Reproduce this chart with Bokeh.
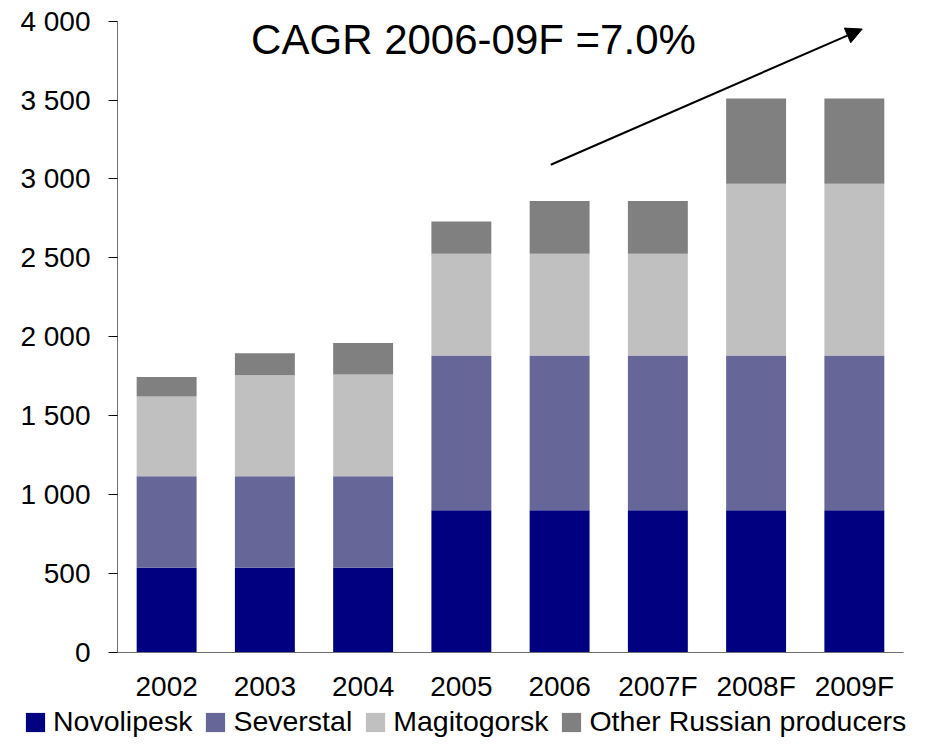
from bokeh.plotting import figure
from bokeh.models import (Range1d, FixedTicker, Legend, LegendItem, Arrow,
                          NormalHead, Label, ColumnDataSource)
from bokeh.embed import file_html
from bokeh.resources import INLINE

# ---- data ----
years = ["2002", "2003", "2004", "2005", "2006", "2007F", "2008F", "2009F"]
novolipesk = [535, 535, 535, 900, 900, 900, 900, 900]
severstal = [580, 580, 580, 980, 980, 980, 980, 980]
magitogorsk = [505, 640, 645, 645, 645, 645, 1090, 1090]
other = [125, 140, 200, 205, 335, 335, 540, 540]
series = ["Novolipesk", "Severstal", "Magitogorsk", "Other Russian producers"]
colors = ["#000080", "#666699", "#C0C0C0", "#808080"]
y_ticks = [0, 500, 1000, 1500, 2000, 2500, 3000, 3500, 4000]
y_tick_labels = ["0", "500", "1 000", "1 500", "2 000", "2 500", "3 000", "3 500", "4 000"]
cagr_text = "CAGR 2006-09F =7.0%"
arrow_start = (4.41, 3090)
arrow_end = (7.58, 3950)
cagr_pos = (1.36, 3885)

FONT = "Liberation Sans"
W = 918
H = 737

# category slots: slot i spans [i, i+1], bar centred at i + 0.5
xpos = [i + 0.5 for i in range(len(years))]

source = ColumnDataSource(data=dict(
    x=xpos,
    Novolipesk=novolipesk,
    Severstal=severstal,
    Magitogorsk=magitogorsk,
    Other=other,
))
keys = ["Novolipesk", "Severstal", "Magitogorsk", "Other"]

# frame covers the whole canvas; axes are pinned inside it
p = figure(x_range=Range1d(-1.191, 8.153), y_range=Range1d(-541, 4131),
           width=W, height=H, output_backend="svg", toolbar_location=None,
           min_border_left=0, min_border_right=0, min_border_top=0,
           min_border_bottom=0)

renderers = p.vbar_stack(keys, x="x", width=0.61, color=colors,
                         line_color=None, source=source)

p.outline_line_color = None
p.xgrid.visible = False
p.ygrid.visible = False
p.background_fill_color = "white"
p.border_fill_color = "white"

# y axis
p.yaxis.fixed_location = 0
p.yaxis.bounds = (0, 4000)
p.yaxis.ticker = FixedTicker(ticks=y_ticks)
p.yaxis.major_label_overrides = {t: l for t, l in zip(y_ticks, y_tick_labels)}
p.yaxis.major_tick_in = 0
p.yaxis.major_tick_out = 9
p.yaxis.minor_tick_line_color = None
p.yaxis.major_tick_line_color = "black"
p.yaxis.axis_line_color = "#707070"
p.yaxis.major_label_standoff = 18
p.yaxis.major_label_text_font = FONT
p.yaxis.major_label_text_font_size = "28px"
p.yaxis.major_label_text_color = "black"

# x axis
p.xaxis.fixed_location = 0
p.xaxis.bounds = (0, len(years))
p.xaxis.ticker = FixedTicker(ticks=xpos)
p.xaxis.major_label_overrides = {x: y for x, y in zip(xpos, years)}
p.xaxis.major_tick_in = 0
p.xaxis.major_tick_out = 0
p.xaxis.minor_tick_line_color = None
p.xaxis.axis_line_color = "#707070"
p.xaxis.major_label_standoff = 19
p.xaxis.major_label_text_font = FONT
p.xaxis.major_label_text_font_size = "28px"
p.xaxis.major_label_text_color = "black"

# CAGR arrow and label
p.add_layout(Arrow(x_start=arrow_start[0], y_start=arrow_start[1],
                   x_end=arrow_end[0], y_end=arrow_end[1],
                   line_color="black", line_width=2,
                   end=NormalHead(size=16, fill_color="black", line_color="black")))
p.add_layout(Label(x=cagr_pos[0], y=cagr_pos[1], text=cagr_text,
                   text_font=FONT, text_font_size="42px", text_color="black",
                   text_baseline="alphabetic", text_align="left"))

# legend
items = [LegendItem(label=s, renderers=[r]) for s, r in zip(series, renderers)]
legend = Legend(items=items, orientation="horizontal", location=(23, -1),
                glyph_width=24, glyph_height=24, label_standoff=6, spacing=11,
                padding=0, margin=0, border_line_color=None,
                background_fill_alpha=0,
                label_text_font=FONT, label_text_font_size="28.5px",
                label_text_color="black")
p.add_layout(legend, "center")

open("out.html", "w").write(file_html(p, INLINE))
